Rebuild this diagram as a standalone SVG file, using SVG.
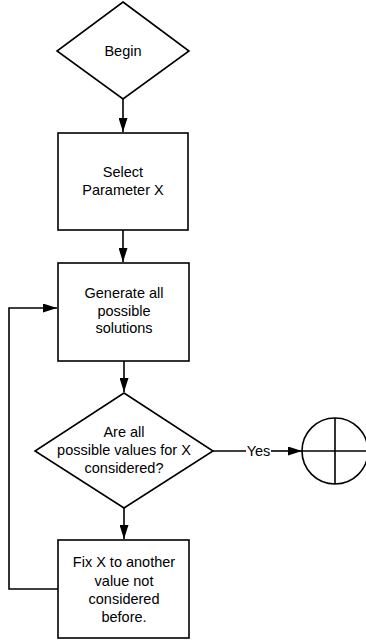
<svg xmlns="http://www.w3.org/2000/svg" width="366" height="642" viewBox="0 0 366 642">
<defs>
<style>
.s{fill:#fff;stroke:#000;stroke-width:1.6}
.c{fill:none;stroke:#000;stroke-width:1.6}
text{font-family:"Liberation Sans",Arial,sans-serif;font-size:14.5px;fill:#000;text-anchor:middle;dominant-baseline:central}
</style>
<marker id="ah" markerUnits="userSpaceOnUse" markerWidth="14" markerHeight="9" refX="14" refY="4.5" orient="auto">
<path d="M0,0 L14,4.5 L0,9 z" fill="#000"/>
</marker>
</defs>
<rect width="366" height="642" fill="#fff"/>
<g id="connectors">
<line class="c" x1="123" y1="99" x2="123" y2="132" marker-end="url(#ah)"/>
<line class="c" x1="123" y1="230" x2="123" y2="262" marker-end="url(#ah)"/>
<line class="c" x1="124" y1="361" x2="124" y2="392" marker-end="url(#ah)"/>
<line class="c" x1="124" y1="508" x2="124" y2="539" marker-end="url(#ah)"/>
<polyline class="c" points="58,589 9,589 9,308 57,308" marker-end="url(#ah)"/>
<line class="c" x1="213" y1="451" x2="246" y2="451"/>
<line class="c" x1="271" y1="451" x2="302" y2="451" marker-end="url(#ah)"/>
<text x="258.5" y="451">Yes</text>
</g>
<g id="begin">
<polygon class="s" points="123,2 189,51 123,99 57,51"/>
<text x="123" y="51">Begin</text>
</g>
<g id="select">
<rect class="s" x="58" y="133" width="130" height="97"/>
<text x="123" y="172">Select</text>
<text x="123" y="190">Parameter X</text>
</g>
<g id="generate">
<rect class="s" x="58" y="263" width="131" height="98"/>
<text x="124" y="293">Generate all</text>
<text x="124" y="311">possible</text>
<text x="124" y="328">solutions</text>
</g>
<g id="decision">
<polygon class="s" points="124,393 213,451 124,508 35,451"/>
<text x="124" y="432">Are all</text>
<text x="124" y="450">possible values for X</text>
<text x="124" y="468">considered?</text>
</g>
<g id="end">
<circle class="s" cx="335" cy="451" r="33"/>
<line class="c" x1="302" y1="451" x2="368" y2="451"/>
<line class="c" x1="335" y1="418" x2="335" y2="484"/>
</g>
<g id="fix">
<rect class="s" x="58" y="540" width="131" height="98"/>
<text x="124" y="562">Fix X to another</text>
<text x="124" y="581">value not</text>
<text x="124" y="599">considered</text>
<text x="124" y="617">before.</text>
</g>
</svg>
